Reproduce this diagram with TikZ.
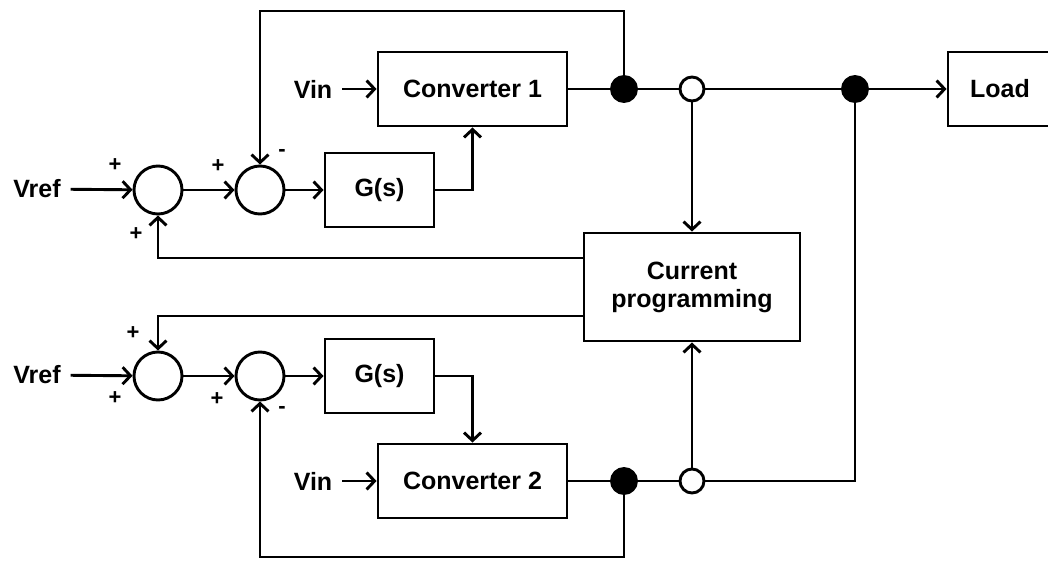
\documentclass[tikz,border=0pt]{standalone}
\usepackage{fontspec}
\setmainfont{Liberation Sans}
\usepackage{tikz}
\usetikzlibrary{arrows.meta,positioning,calc}

\begin{document}
\begin{tikzpicture}[
    x=1pt, y=-1pt,
    line width=2.9pt,
    font=\bfseries\fontsize{25}{28}\selectfont,
    block/.style={rectangle, draw, minimum height=74pt, inner sep=0pt},
    summer/.style={circle, draw, minimum size=48pt, inner sep=0pt},
    fulldot/.style={circle, draw, fill=black, minimum size=25pt, inner sep=0pt},
    opendot/.style={circle, draw, fill=white, minimum size=24pt, inner sep=0pt},
    txt/.style={inner sep=0pt, outer sep=10pt},
    sgn/.style={font=\bfseries\fontsize{22}{22}\selectfont, inner sep=0pt},
    arrow/.style={-{Straight Barb[length=8pt,width=17pt]}}
]
\useasboundingbox (0,0) rectangle (1048,561);

% Upper channel
\node[txt] (vref1) at (37,189) {Vref};
\node[summer] (sum11) at (158,190) {};
\node[summer] (sum12) at (260,190) {};
\node[block, minimum width=109pt] (gs1) at (379.5,190) {G(s)};
\node[txt] (vin1) at (313,89) {Vin};
\node[block, minimum width=189pt] (conv1) at (472.5,89) {Converter 1};

% Output bus
\node[fulldot] (dot11) at (624,89) {};
\node[opendot] (dot12) at (692,89) {};
\node[fulldot] (dot13) at (855,89) {};
\node[block, minimum width=104pt] (load) at (1000,89) {Load};

% Current programming
\node[block, minimum width=216pt, minimum height=108pt, align=center] (cp) at (692,287) {Current\\programming};

% Lower channel
\node[txt] (vref2) at (37,375) {Vref};
\node[summer] (sum21) at (158,376) {};
\node[summer] (sum22) at (260,376) {};
\node[block, minimum width=109pt] (gs2) at (379.5,376) {G(s)};
\node[txt] (vin2) at (313,481) {Vin};
\node[block, minimum width=189pt] (conv2) at (472.5,481) {Converter 2};
\node[fulldot] (dot21) at (624,481) {};
\node[opendot] (dot22) at (692,481) {};

% Feedback corners
\coordinate (fbtop) at (260,11);
\coordinate (fbbot) at (260,557);

% Signs
\node[sgn] at (115,165) {+};
\node[sgn] at (136,234) {+};
\node[sgn] at (218,166) {+};
\node[sgn] at (282,153) {-};
\node[sgn] at (133,333) {+};
\node[sgn] at (115,398) {+};
\node[sgn] at (217,399) {+};
\node[sgn] at (282,410) {-};

% Arrows - upper channel
\draw[arrow] (vref1) -- (sum11);
\draw[arrow] (sum11) -- (sum12);
\draw[arrow] (sum12) -- (gs1);
\draw[arrow] (gs1) -| (conv1);
\draw[arrow] (vin1) -- (conv1);
\draw (conv1) -- (dot11);
\draw (dot11) -- (dot12);
\draw (dot12) -- (dot13);
\draw[arrow] (dot13) -- (load);
\draw[arrow] (dot11) |- (fbtop) -- (sum12);

% Arrows - current programming
\draw[arrow] (dot12) -- (cp);
\draw[arrow] (dot22) -- (cp);
\draw[arrow] ([yshift=29pt]cp.west) -| (sum11);
\draw[arrow] ([yshift=-29pt]cp.west) -| (sum21);

% Arrows - lower channel
\draw[arrow] (vref2) -- (sum21);
\draw[arrow] (sum21) -- (sum22);
\draw[arrow] (sum22) -- (gs2);
\draw[arrow] (gs2) -| (conv2);
\draw[arrow] (vin2) -- (conv2);
\draw (conv2) -- (dot21);
\draw (dot21) -- (dot22);
\draw (dot22) -| (dot13);
\draw[arrow] (dot21) |- (fbbot) -- (sum22);

\end{tikzpicture}
\end{document}
